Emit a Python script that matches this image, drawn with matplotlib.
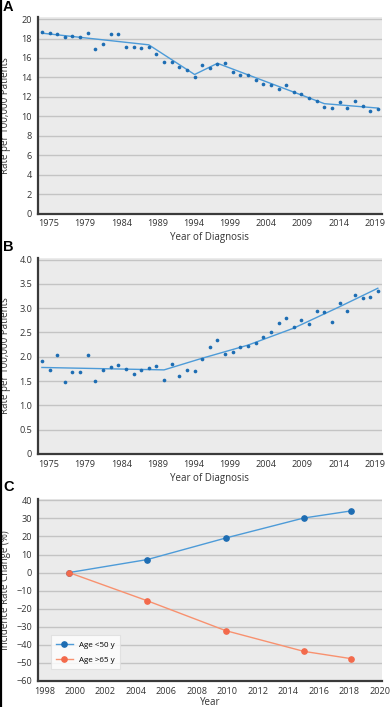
"""Three-panel incidence chart: rate trends (A, B) and rate change by age (C)"""

import matplotlib
matplotlib.use("Agg")
import matplotlib.pyplot as plt
import numpy as np
from matplotlib.lines import Line2D

plt.rcParams["font.family"] = ["Open Sans", "DejaVu Sans"]

# ---- data ----
years = np.arange(1975, 2020)

rate_a = [18.65, 18.55, 18.5, 18.2, 18.3, 18.15, 18.6, 16.9, 17.45, 18.45,
          18.5, 17.15, 17.15, 17.05, 17.15, 16.45, 15.6, 15.6, 15.05, 14.75,
          14.05, 15.3, 14.95, 15.35, 15.45, 14.55, 14.25, 14.2, 13.75, 13.35,
          13.25, 12.85, 13.25, 12.5, 12.25, 11.85, 11.55, 11.0, 10.85, 11.5,
          10.85, 11.6, 11.1, 10.55, 10.75]
trend_a_years = [1975, 1989, 1995, 1998, 2012, 2019]
trend_a = [18.55, 17.35, 14.3, 15.45, 11.3, 10.85]

rate_b = [1.91, 1.73, 2.04, 1.48, 1.69, 1.69, 2.04, 1.51, 1.72, 1.78,
          1.84, 1.75, 1.65, 1.72, 1.77, 1.82, 1.52, 1.86, 1.61, 1.73,
          1.71, 1.96, 2.20, 2.35, 2.05, 2.10, 2.21, 2.22, 2.29, 2.40,
          2.50, 2.69, 2.80, 2.62, 2.76, 2.67, 2.95, 2.93, 2.71, 3.10,
          2.95, 3.27, 3.21, 3.24, 3.35]
trend_b_years = [1975, 1991, 1996, 2002, 2008, 2014, 2019]
trend_b = [1.78, 1.73, 1.97, 2.24, 2.59, 3.03, 3.41]

tick_labels_ab = ["1975", "1979", "1984", "1989", "1994", "1999",
                  "2004", "2009", "2014", "2019"]

years_c = [2000, 2005, 2010, 2015, 2018]
change_young = [0, 7.2, 19.1, 30.2, 34.1]
change_old = [0, -15.6, -32.1, -43.6, -47.6]
tick_labels_c = ["1998", "2000", "2002", "2004", "2006", "2008",
                 "2010", "2012", "2014", "2016", "2018", "2020"]
legend_labels = ["Age <50 y", "Age >65 y"]

# ---- style ----
BG = "#ebebeb"
GRID = "#c4c4c4"
SPINE = "#3a3a3a"
TEXT = "#333333"
DOT_BLUE = "#1d6db3"
LINE_BLUE = "#4d9bd8"
DOT_ORANGE = "#f36a4c"
LINE_ORANGE = "#f8916f"
FS = 7
TICK_FS = 6.6
YLABEL_X = -0.078


def style_axes(ax):
    ax.set_facecolor(BG)
    for side in ("top", "right"):
        ax.spines[side].set_visible(False)
    for side in ("left", "bottom"):
        ax.spines[side].set_color(SPINE)
        ax.spines[side].set_linewidth(1.6)
    ax.grid(axis="y", color=GRID, linewidth=1.0)
    ax.set_axisbelow(True)
    ax.tick_params(length=0, labelsize=TICK_FS, colors=TEXT, pad=4)


fig = plt.figure(figsize=(3.91, 7.07), dpi=100)

ax_a = fig.add_axes([0.0964, 0.6979, 0.8806, 0.2786])
ax_b = fig.add_axes([0.0964, 0.3579, 0.8806, 0.2777])
ax_c = fig.add_axes([0.0964, 0.0368, 0.8806, 0.2581])

# panel A
style_axes(ax_a)
ax_a.plot(trend_a_years, trend_a, color=LINE_BLUE, linewidth=1.0, zorder=2)
ax_a.scatter(years, rate_a, s=7, color=DOT_BLUE, zorder=3, linewidths=0)
ax_a.set_xlim(1974.45, 2019.55)
ax_a.set_ylim(0, 20.25)
ax_a.set_yticks(np.arange(0, 21, 2))
ax_a.set_xticks(np.linspace(1975.9, 2018.6, len(tick_labels_ab)))
ax_a.set_xticklabels(tick_labels_ab)
ax_a.set_xlabel("Year of Diagnosis", fontsize=FS, color=TEXT, labelpad=3)
ax_a.set_ylabel("Rate per 100,000 Patients", fontsize=FS, color=TEXT)
ax_a.yaxis.set_label_coords(YLABEL_X, 0.5)

# panel B
style_axes(ax_b)
ax_b.plot(trend_b_years, trend_b, color=LINE_BLUE, linewidth=1.0, zorder=2)
ax_b.scatter(years, rate_b, s=7, color=DOT_BLUE, zorder=3, linewidths=0)
ax_b.set_xlim(1974.45, 2019.55)
ax_b.set_ylim(0, 4.04)
ax_b.set_yticks(np.arange(0, 4.01, 0.5))
ax_b.set_yticklabels(["0", "0.5", "1.0", "1.5", "2.0", "2.5", "3.0", "3.5", "4.0"])
ax_b.set_xticks(np.linspace(1975.9, 2018.6, len(tick_labels_ab)))
ax_b.set_xticklabels(tick_labels_ab)
ax_b.set_xlabel("Year of Diagnosis", fontsize=FS, color=TEXT, labelpad=3)
ax_b.set_ylabel("Rate per 100,000 Patients", fontsize=FS, color=TEXT)
ax_b.yaxis.set_label_coords(YLABEL_X, 0.5)

# panel C
style_axes(ax_c)
ax_c.plot(years_c, change_young, color=LINE_BLUE, linewidth=1.0, marker="o",
          markersize=3.8, markerfacecolor=DOT_BLUE, markeredgecolor=DOT_BLUE,
          label=legend_labels[0], zorder=3)
ax_c.plot(years_c, change_old, color=LINE_ORANGE, linewidth=1.0, marker="o",
          markersize=3.8, markerfacecolor=DOT_ORANGE, markeredgecolor=DOT_ORANGE,
          label=legend_labels[1], zorder=3)
ax_c.set_xlim(1998, 2020)
ax_c.set_ylim(-60, 41)
ax_c.set_yticks(np.arange(-60, 41, 10))
ax_c.set_xticks(np.linspace(1998.43, 2019.84, len(tick_labels_c)))
ax_c.set_xticklabels(tick_labels_c)
ax_c.set_xlabel("Year", fontsize=FS, color=TEXT)
ax_c.xaxis.set_label_coords(0.5, -0.086)
ax_c.set_ylabel("Incidence Rate Change (%)", fontsize=FS, color=TEXT)
ax_c.yaxis.set_label_coords(YLABEL_X, 0.5)
leg = ax_c.legend(loc="lower left", bbox_to_anchor=(0.038, 0.064), fontsize=5.8,
                  frameon=True, fancybox=False, handlelength=2.0,
                  borderpad=0.7, labelspacing=0.9, borderaxespad=0)
leg.get_frame().set_facecolor("white")
leg.get_frame().set_edgecolor("#dddddd")
leg.get_frame().set_linewidth(0.8)

# panel letters
for letter, y in (("A", 0.990), ("B", 0.6513), ("C", 0.3105)):
    fig.text(0.008, y, letter, fontsize=10.5, fontweight="bold", va="center",
             ha="left", family="Liberation Sans")

# dark border strip on the left edge
fig.add_artist(Line2D([0.002, 0.002], [0, 1], color="black", linewidth=1.6,
                      transform=fig.transFigure))

fig.savefig("out.png", dpi=100)
